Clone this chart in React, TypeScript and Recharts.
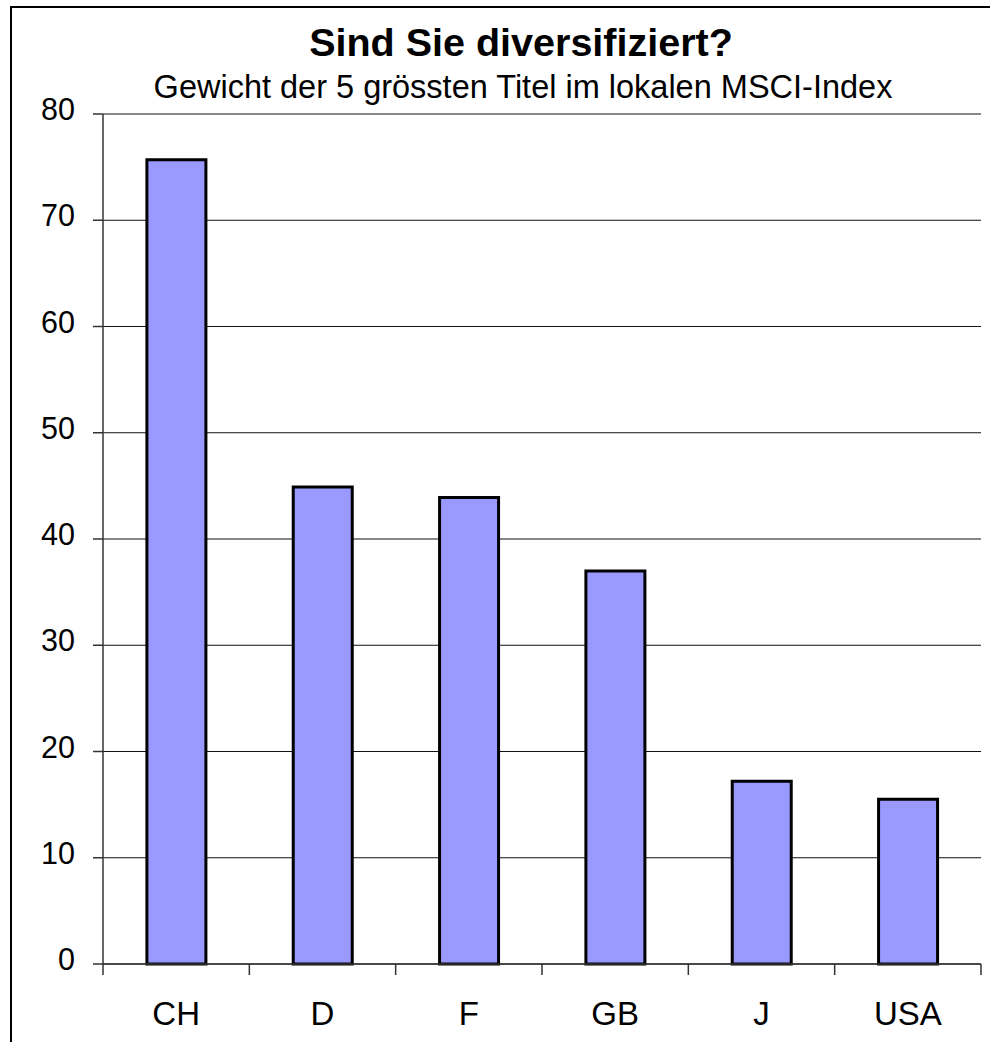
import { BarChart, Bar, XAxis, YAxis, CartesianGrid } from 'recharts'

// ─── Data ────────────────────────────────────────────────────────────

const countries = ['CH', 'D', 'F', 'GB', 'J', 'USA']
const weights = [75.7, 44.9, 43.9, 37.0, 17.2, 15.5]
const yTicks = [0, 10, 20, 30, 40, 50, 60, 70, 80]

const chartData = countries.map((name, i) => ({ name, gewicht: weights[i] }))

const font = '"Liberation Sans", Arial, Helvetica, sans-serif'
const axisColor = '#333'

// ─── Ticks ───────────────────────────────────────────────────────────

function YTick(props: any) {
    const { x, y, payload } = props
    return (
        <text x={x} y={y} dy={6} textAnchor="end" fill="#000" fontSize={30.5} fontFamily={font}>
            {payload.value}
        </text>
    )
}

function XTick(props: any) {
    const { x, y, payload, index } = props
    const half = payload.offset ?? 0
    const last = index === countries.length - 1
    return (
        <g>
            <line x1={x - half} x2={x - half} y1={y} y2={y + 11} stroke={axisColor} strokeWidth={1.5} />
            {last && <line x1={x + half} x2={x + half} y1={y} y2={y + 11} stroke={axisColor} strokeWidth={1.5} />}
            <text x={x} y={y + 61} textAnchor="middle" fill="#000" fontSize={33} fontFamily={font}>
                {payload.value}
            </text>
        </g>
    )
}

// ─── Component ───────────────────────────────────────────────────────

export default function App() {
    return (
        <div style={{ position: 'absolute', left: 0, top: 0, width: 990, height: 1042, overflow: 'hidden', background: '#fff' }}>
            <div style={{ position: 'absolute', left: 10, top: 6, width: 1200, height: 1200, borderLeft: '2px solid #000', borderTop: '2px solid #000' }} />
            <div style={{ position: 'absolute', left: 0, width: 1042, top: 19, textAlign: 'center', fontFamily: font, fontWeight: 'bold', fontSize: 39.5, lineHeight: '46px' }}>
                Sind Sie diversifiziert?
            </div>
            <div style={{ position: 'absolute', left: 0, width: 1046, top: 68, textAlign: 'center', fontFamily: font, fontSize: 32.5, lineHeight: '38px' }}>
                Gewicht der 5 grössten Titel im lokalen MSCI-Index
            </div>
            <div style={{ position: 'absolute', left: 0, top: 0 }}>
                <BarChart width={990} height={1042} data={chartData} margin={{ top: 114, right: 9, left: 0, bottom: 0 }} barCategoryGap="30%">
                    <CartesianGrid vertical={false} stroke="#111" strokeWidth={1} />
                    <XAxis dataKey="name" height={78} axisLine={{ stroke: axisColor, strokeWidth: 1.5 }} tickLine={false} tickSize={0} tickMargin={0} tick={<XTick />} interval={0} />
                    <XAxis xAxisId="top" dataKey="name" orientation="top" height={0} axisLine={{ stroke: '#888', strokeWidth: 2 }} tick={false} tickLine={false} />
                    <YAxis width={103} domain={[0, 80]} ticks={yTicks} interval={0} axisLine={{ stroke: axisColor, strokeWidth: 1.5 }} tickLine={{ stroke: axisColor, strokeWidth: 1.5 }} tickSize={10} tickMargin={18} tick={<YTick />} />
                    <YAxis yAxisId="right" orientation="right" width={0} domain={[0, 80]} axisLine={{ stroke: '#888', strokeWidth: 2 }} tick={false} tickLine={false} />
                    <Bar dataKey="gewicht" fill="#9999FF" stroke="#000" strokeWidth={3} isAnimationActive={false} />
                </BarChart>
            </div>
        </div>
    )
}
